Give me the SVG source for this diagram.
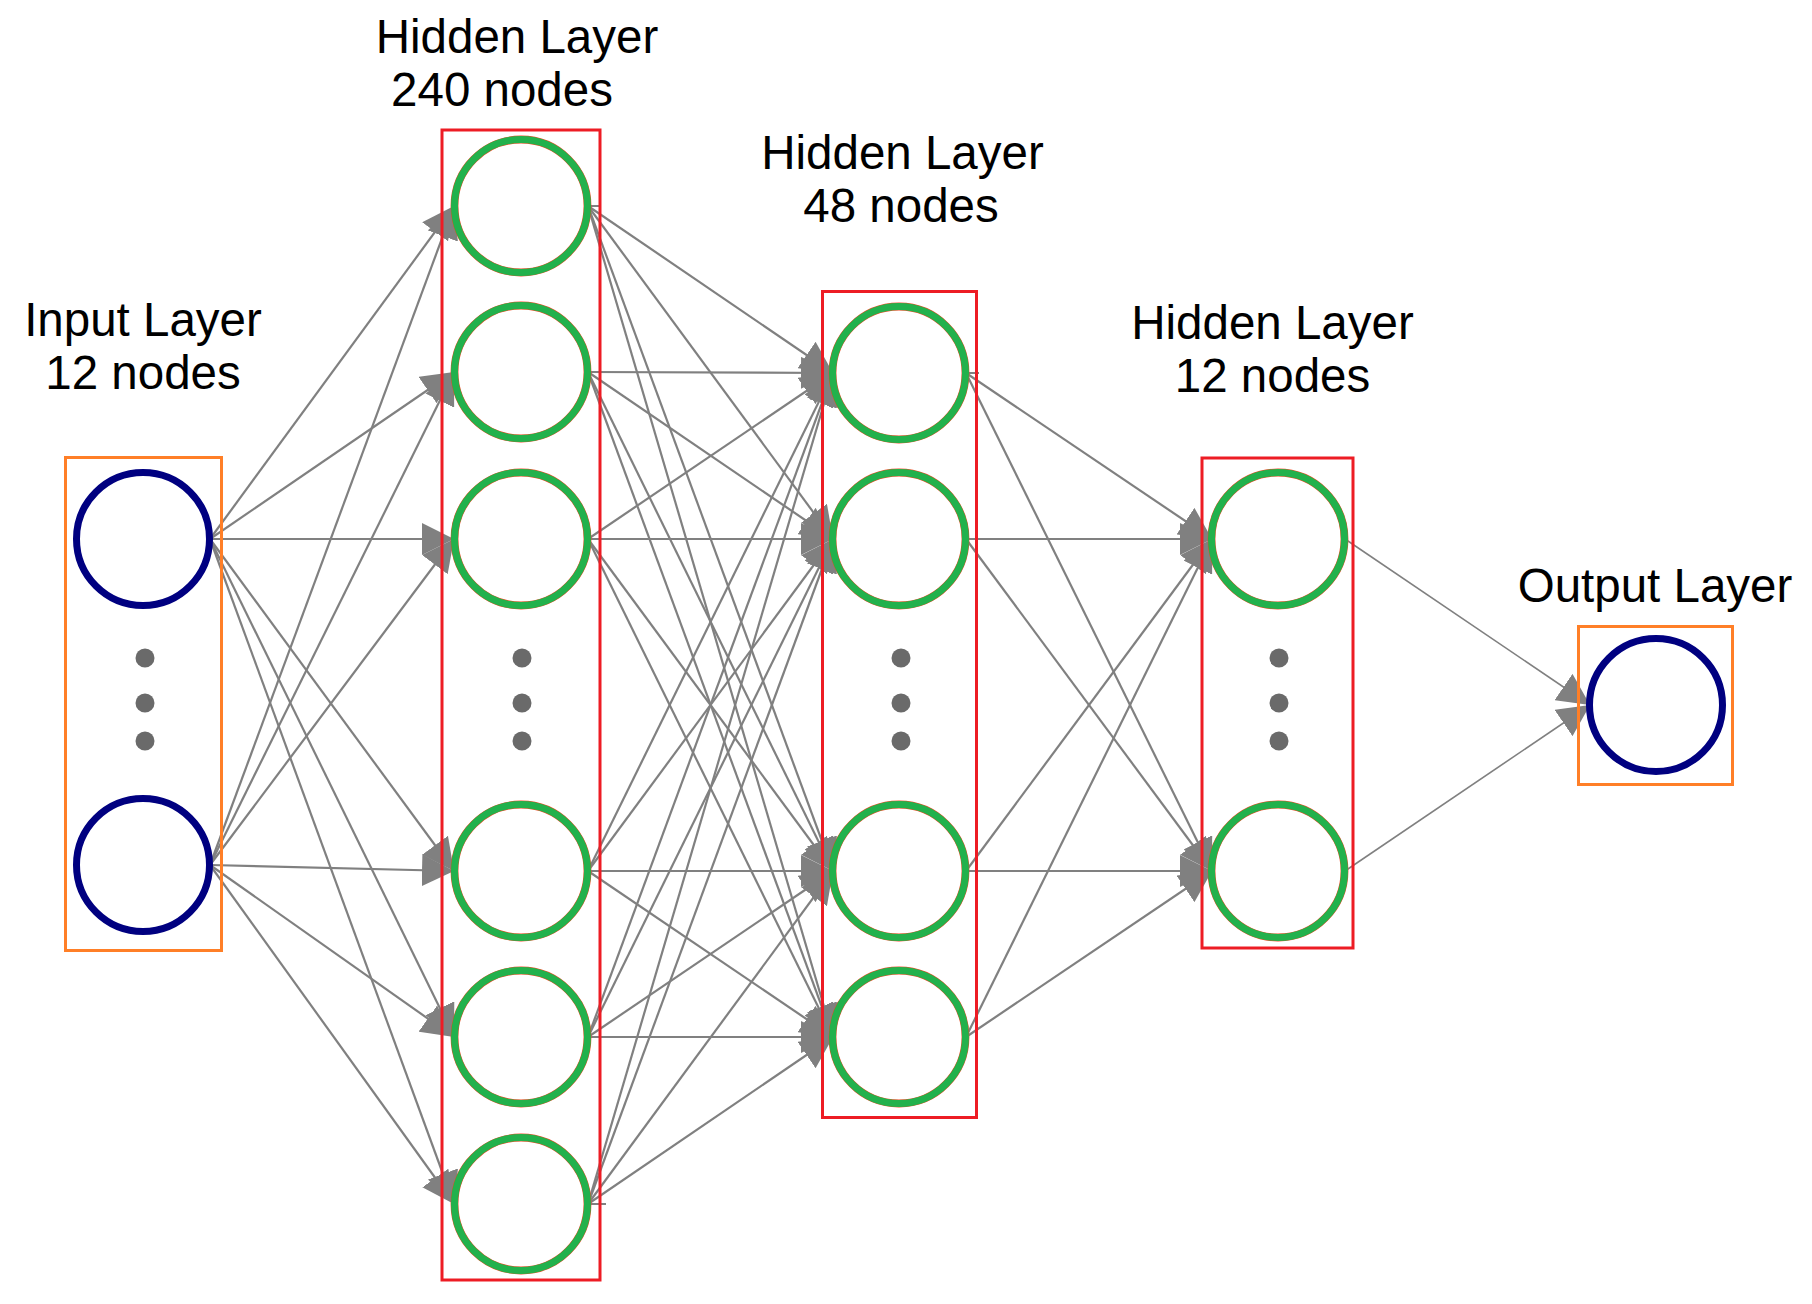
<svg xmlns="http://www.w3.org/2000/svg" width="1812" height="1304" viewBox="0 0 1812 1304">
  <defs>
    <style>
      .edge { stroke: #808080; stroke-width: 2.2; fill: none; marker-end: url(#head); }
      .edge.thin { stroke-width: 1.6; }
      .stub { stroke: #808080; stroke-width: 2; fill: none; }
      .frame-hidden { fill: none; stroke: #ed1c24; stroke-width: 3; }
      .frame-io { fill: none; stroke: #ff7f27; stroke-width: 3; }
      .io { fill: #ffffff; stroke: #000080; stroke-width: 7; }
      .hid-rim { fill: #ffffff; stroke: #f04a24; stroke-width: 7.8; }
      .hid { fill: none; stroke: #22b14c; stroke-width: 7; }
      .dot { fill: #6a6a6a; }
      .label { font-family: "Liberation Sans", Arial, sans-serif; font-size: 47.5px; fill: #000000; text-anchor: middle; }
    </style>
    <marker id="head" viewBox="0 0 32 32" markerUnits="userSpaceOnUse" markerWidth="32" markerHeight="32" refX="32" refY="16" orient="auto">
      <path d="M0,0 L32,16 L0,32 Z" fill="#808080"/>
    </marker>
    <g id="hnode">
      <circle r="66.5" class="hid-rim"/>
      <circle r="66.5" class="hid"/>
    </g>
    <g id="ellipsis">
      <circle cx="0" cy="658" r="9.5" class="dot"/>
      <circle cx="0" cy="703" r="9.5" class="dot"/>
      <circle cx="0" cy="741" r="9.5" class="dot"/>
    </g>
  </defs>

  <rect width="1812" height="1304" fill="#ffffff"/>

  <!-- weighted connections between layers -->
  <g id="connectors">
    <!-- input -> hidden 1 -->
    <line class="edge" x1="210" y1="539" x2="454" y2="206"/>
    <line class="edge" x1="210" y1="539" x2="454" y2="372"/>
    <line class="edge" x1="210" y1="539" x2="454" y2="539"/>
    <line class="edge" x1="210" y1="539" x2="454" y2="871"/>
    <line class="edge" x1="210" y1="539" x2="454" y2="1037"/>
    <line class="edge" x1="210" y1="539" x2="454" y2="1204"/>
    <line class="edge" x1="210" y1="865" x2="454" y2="206"/>
    <line class="edge" x1="210" y1="865" x2="454" y2="372"/>
    <line class="edge" x1="210" y1="865" x2="454" y2="539"/>
    <line class="edge" x1="210" y1="865" x2="454" y2="871"/>
    <line class="edge" x1="210" y1="865" x2="454" y2="1037"/>
    <line class="edge" x1="210" y1="865" x2="454" y2="1204"/>

    <!-- hidden 1 -> hidden 2 -->
    <line class="edge" x1="588" y1="206" x2="833" y2="373"/>
    <line class="edge" x1="588" y1="206" x2="833" y2="539"/>
    <line class="edge" x1="588" y1="206" x2="833" y2="871"/>
    <line class="edge" x1="588" y1="206" x2="833" y2="1037"/>
    <line class="edge" x1="588" y1="372" x2="833" y2="373"/>
    <line class="edge" x1="588" y1="372" x2="833" y2="539"/>
    <line class="edge" x1="588" y1="372" x2="833" y2="871"/>
    <line class="edge" x1="588" y1="372" x2="833" y2="1037"/>
    <line class="edge" x1="588" y1="539" x2="833" y2="373"/>
    <line class="edge" x1="588" y1="539" x2="833" y2="539"/>
    <line class="edge" x1="588" y1="539" x2="833" y2="871"/>
    <line class="edge" x1="588" y1="539" x2="833" y2="1037"/>
    <line class="edge" x1="588" y1="871" x2="833" y2="373"/>
    <line class="edge" x1="588" y1="871" x2="833" y2="539"/>
    <line class="edge" x1="588" y1="871" x2="833" y2="871"/>
    <line class="edge" x1="588" y1="871" x2="833" y2="1037"/>
    <line class="edge" x1="588" y1="1037" x2="833" y2="373"/>
    <line class="edge" x1="588" y1="1037" x2="833" y2="539"/>
    <line class="edge" x1="588" y1="1037" x2="833" y2="871"/>
    <line class="edge" x1="588" y1="1037" x2="833" y2="1037"/>
    <line class="edge" x1="588" y1="1204" x2="833" y2="373"/>
    <line class="edge" x1="588" y1="1204" x2="833" y2="539"/>
    <line class="edge" x1="588" y1="1204" x2="833" y2="871"/>
    <line class="edge" x1="588" y1="1204" x2="833" y2="1037"/>

    <!-- hidden 2 -> hidden 3 -->
    <line class="edge" x1="966" y1="373" x2="1212" y2="539"/>
    <line class="edge" x1="966" y1="373" x2="1212" y2="871"/>
    <line class="edge" x1="966" y1="539" x2="1212" y2="539"/>
    <line class="edge" x1="966" y1="539" x2="1212" y2="871"/>
    <line class="edge" x1="966" y1="871" x2="1212" y2="539"/>
    <line class="edge" x1="966" y1="871" x2="1212" y2="871"/>
    <line class="edge" x1="966" y1="1037" x2="1212" y2="539"/>
    <line class="edge" x1="966" y1="1037" x2="1212" y2="871"/>

    <!-- hidden 3 -> output -->
    <line class="edge thin" x1="1345" y1="539" x2="1590" y2="705"/>
    <line class="edge thin" x1="1345" y1="871" x2="1590" y2="705"/>

    <!-- short tails at source ports -->
    <line class="stub" x1="588" y1="206" x2="600" y2="206"/>
    <line class="stub" x1="588" y1="1204" x2="606" y2="1204"/>
    <line class="stub" x1="966" y1="373" x2="979" y2="373"/>
  </g>

  <!-- layer frames -->
  <g id="frames">
    <rect class="frame-io" x="65.5" y="457.5" width="156" height="493"/>
    <rect class="frame-hidden" x="442" y="130" width="158" height="1150"/>
    <rect class="frame-hidden" x="822.5" y="291.5" width="154" height="826"/>
    <rect class="frame-hidden" x="1202" y="458" width="151" height="490"/>
    <rect class="frame-io" x="1578.5" y="626.5" width="154" height="158"/>
  </g>

  <!-- layer captions -->
  <g id="captions">
    <text class="label" x="143" y="335.5">Input Layer</text>
    <text class="label" x="143" y="388.5">12 nodes</text>
    <text class="label" x="517" y="53">Hidden Layer</text>
    <text class="label" x="502" y="106">240 nodes</text>
    <text class="label" x="902.5" y="168.5">Hidden Layer</text>
    <text class="label" x="901" y="221.5">48 nodes</text>
    <text class="label" x="1272.5" y="338.5">Hidden Layer</text>
    <text class="label" x="1272.5" y="391.5">12 nodes</text>
    <text class="label" x="1655" y="601.5">Output Layer</text>
  </g>

  <!-- input layer -->
  <g id="in-1"><circle class="io" cx="143" cy="539" r="66.5"/></g>
  <g id="in-ellipsis"><use href="#ellipsis" x="145"/></g>
  <g id="in-12"><circle class="io" cx="143" cy="865" r="66.5"/></g>

  <!-- hidden layer 1 -->
  <g id="h1-1"><use href="#hnode" x="521" y="206"/></g>
  <g id="h1-2"><use href="#hnode" x="521" y="372"/></g>
  <g id="h1-3"><use href="#hnode" x="521" y="539"/></g>
  <g id="h1-ellipsis"><use href="#ellipsis" x="522"/></g>
  <g id="h1-238"><use href="#hnode" x="521" y="871"/></g>
  <g id="h1-239"><use href="#hnode" x="521" y="1037"/></g>
  <g id="h1-240"><use href="#hnode" x="521" y="1204"/></g>

  <!-- hidden layer 2 -->
  <g id="h2-1"><use href="#hnode" x="899" y="373"/></g>
  <g id="h2-2"><use href="#hnode" x="899" y="539"/></g>
  <g id="h2-ellipsis"><use href="#ellipsis" x="901"/></g>
  <g id="h2-47"><use href="#hnode" x="899" y="871"/></g>
  <g id="h2-48"><use href="#hnode" x="899" y="1037"/></g>

  <!-- hidden layer 3 -->
  <g id="h3-1"><use href="#hnode" x="1278" y="539"/></g>
  <g id="h3-ellipsis"><use href="#ellipsis" x="1279"/></g>
  <g id="h3-12"><use href="#hnode" x="1278" y="871"/></g>

  <!-- output layer -->
  <g id="out-1"><circle class="io" cx="1656" cy="705" r="66.5"/></g>
</svg>
